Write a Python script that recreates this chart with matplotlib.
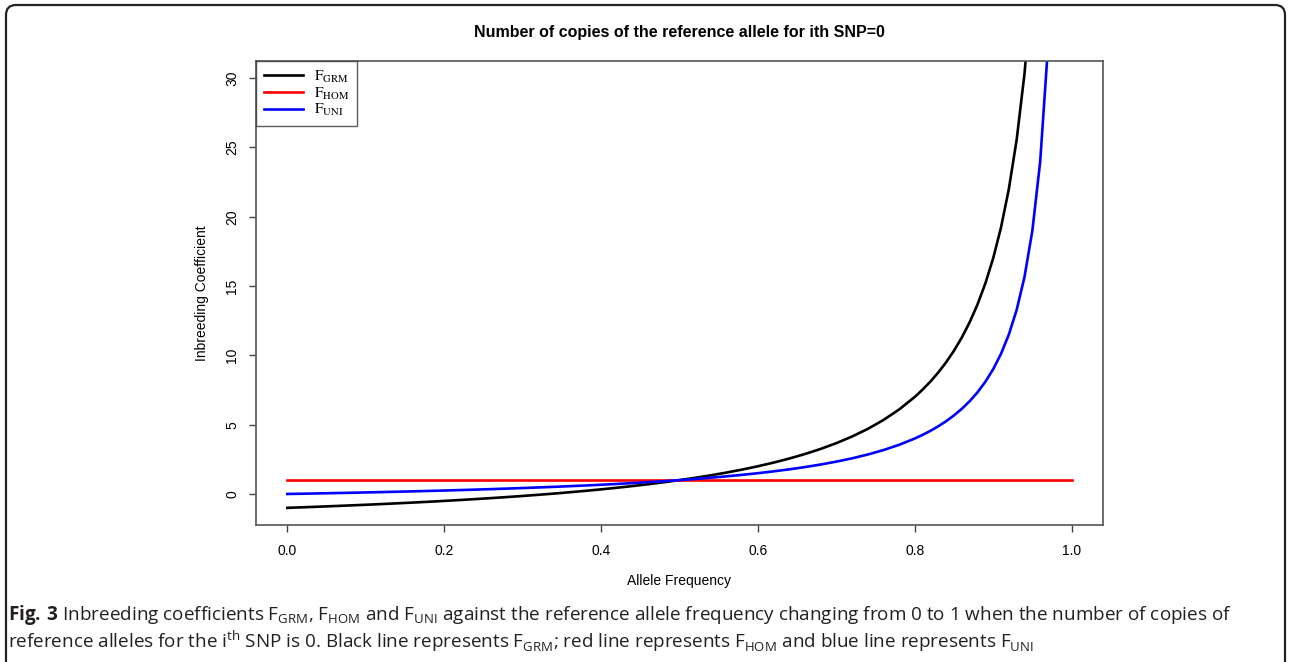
import matplotlib
matplotlib.use("Agg")
import matplotlib.pyplot as plt
from matplotlib.patches import FancyBboxPatch

# allele frequency grid and the three inbreeding coefficients
allele_freq = [0.00, 0.02, 0.04, 0.06, 0.08, 0.10, 0.12, 0.14, 0.16, 0.18,
               0.20, 0.22, 0.24, 0.26, 0.28, 0.30, 0.32, 0.34, 0.36, 0.38,
               0.40, 0.42, 0.44, 0.46, 0.48, 0.50, 0.52, 0.54, 0.56, 0.58,
               0.60, 0.62, 0.64, 0.66, 0.68, 0.70, 0.72, 0.74, 0.76, 0.78,
               0.80, 0.81, 0.82, 0.83, 0.84, 0.85, 0.86, 0.87, 0.88, 0.89,
               0.90, 0.91, 0.92, 0.93, 0.94, 0.95, 0.96, 0.97, 0.98]

f_grm = [-1.0, -0.959, -0.917, -0.872, -0.826, -0.778, -0.727, -0.674, -0.619, -0.561,
         -0.5, -0.436, -0.368, -0.297, -0.222, -0.143, -0.059, 0.030, 0.125, 0.226,
         0.333, 0.448, 0.571, 0.704, 0.846, 1.0, 1.167, 1.348, 1.545, 1.762,
         2.0, 2.263, 2.556, 2.882, 3.25, 3.667, 4.143, 4.692, 5.333, 6.091,
         7.0, 7.526, 8.111, 8.765, 9.5, 10.333, 11.286, 12.385, 13.667, 15.182,
         17.0, 19.222, 22.0, 25.571, 30.333, 37.0, 47.0, 63.667, 97.0]

f_uni = [0.0, 0.020, 0.042, 0.064, 0.087, 0.111, 0.136, 0.163, 0.190, 0.220,
         0.25, 0.282, 0.316, 0.351, 0.389, 0.429, 0.471, 0.515, 0.563, 0.613,
         0.667, 0.724, 0.786, 0.852, 0.923, 1.0, 1.083, 1.174, 1.273, 1.381,
         1.5, 1.632, 1.778, 1.941, 2.125, 2.333, 2.571, 2.846, 3.167, 3.545,
         4.0, 4.263, 4.556, 4.882, 5.25, 5.667, 6.143, 6.692, 7.333, 8.091,
         9.0, 10.111, 11.5, 13.286, 15.667, 19.0, 24.0, 32.333, 49.0]

hom_freq = [0.0, 1.0]
f_hom = [1.0, 1.0]

x_ticks = [0.0, 0.2, 0.4, 0.6, 0.8, 1.0]
y_ticks = [0, 5, 10, 15, 20, 25, 30]

plt.rcParams['font.family'] = ['Liberation Sans', 'DejaVu Sans']

fig = plt.figure(figsize=(12.9, 6.62), dpi=100)
ax = fig.add_axes([0.1984, 0.2069, 0.6566, 0.7010])

ax.plot(allele_freq, f_grm, color='black', lw=1.9, label=r'$\mathrm{F_{GRM}}$')
ax.plot(hom_freq, f_hom, color='red', lw=1.9, label=r'$\mathrm{F_{HOM}}$')
ax.plot(allele_freq, f_uni, color='blue', lw=1.9, label=r'$\mathrm{F_{UNI}}$')

ax.set_xlim(-0.04, 1.04)
ax.set_ylim(-2.24, 31.24)
ax.set_xticks(x_ticks)
ax.set_xticklabels([f"{v:.1f}" for v in x_ticks])
ax.set_yticks(y_ticks)
ax.set_yticklabels([str(v) for v in y_ticks], rotation=90, va='center')
ax.tick_params(axis='both', length=5, width=1, color='#444444', labelsize=10)
ax.tick_params(axis='x', pad=9)
ax.tick_params(axis='y', pad=7)
for s in ax.spines.values():
    s.set_color('#555555')
    s.set_linewidth(1.2)

ax.set_xlabel('Allele Frequency', fontsize=10, labelpad=11)
ax.set_ylabel('Inbreeding Coefficient', fontsize=10, labelpad=12)
ax.set_title('Number of copies of the reference allele for ith SNP=0',
             fontsize=11.5, fontweight='bold', pad=17)

leg = ax.legend(loc='upper left', borderaxespad=0, fancybox=False,
                handlelength=2.6, handletextpad=0.7, labelspacing=0.05,
                borderpad=0.5, prop={'size': 11})
leg.get_frame().set_edgecolor('#333333')
leg.get_frame().set_linewidth(1.0)
for t in leg.get_texts():
    t.set_math_fontfamily('stix')

# caption below the chart
plt.rcParams['mathtext.fontset'] = 'custom'
plt.rcParams['mathtext.rm'] = 'Open Sans'
plt.rcParams['mathtext.bf'] = 'Open Sans:bold'
cap1 = (r'$\mathbf{Fig.3}$ Inbreeding coefficients F$_{\mathrm{GRM}}$, F$_{\mathrm{HOM}}$ and '
        r'F$_{\mathrm{UNI}}$ against the reference allele frequency changing from 0 to 1 when the number of copies of')
cap2 = (r'reference alleles for the i$^{\mathrm{th}}$ SNP is 0. Black line represents F$_{\mathrm{GRM}}$; '
        r'red line represents F$_{\mathrm{HOM}}$ and blue line represents F$_{\mathrm{UNI}}$')
cap1 = cap1.replace(r'\mathbf{Fig.3}', r'\mathbf{Fig.}\,\mathbf{3}')
fig.text(8 / 1290, 1 - 615 / 662, cap1, fontsize=13.6, family='Open Sans',
         color='#231f20', va='center', ha='left')
fig.text(8 / 1290, 1 - 641 / 662, cap2, fontsize=13.6, family='Open Sans',
         color='#231f20', va='center', ha='left')

# rounded frame around the figure
frame = FancyBboxPatch((6, 5), 1279, 670, boxstyle='round,pad=0,rounding_size=10',
                       fill=False, edgecolor='#222222', lw=1.6)
frame.set_transform(matplotlib.transforms.Affine2D().scale(1, -1).translate(0, 662))
fig.patches.append(frame)

fig.savefig('out.png', dpi=100)
